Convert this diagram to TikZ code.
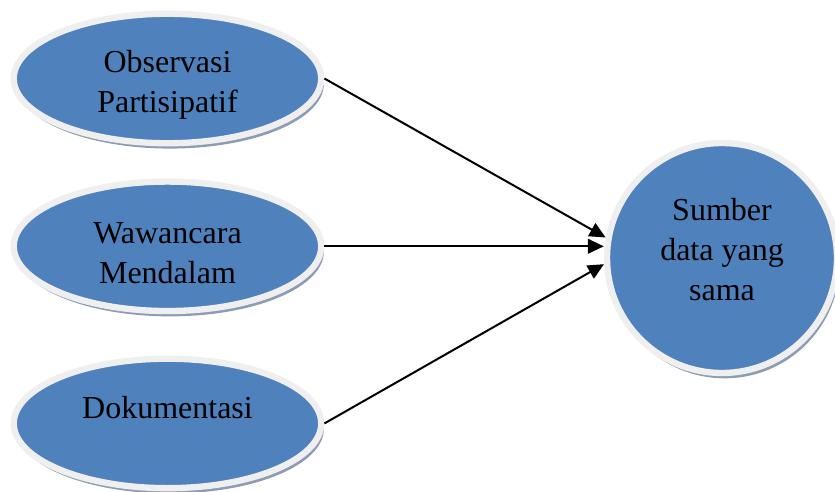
\documentclass[tikz,border=0pt]{standalone}
\usepackage{fontspec}
\setmainfont{Liberation Serif}
\usepackage{tikz}
\usetikzlibrary{positioning,shapes,shadows,arrows,arrows.meta}
\definecolor{officeblue}{HTML}{4F81BD}
\definecolor{rimgrey}{HTML}{EFEFEF}
\definecolor{shadowgrey}{HTML}{8E9CB3}
\tikzset{
	blob/.style={draw=rimgrey, line width=4.75pt, fill=officeblue, inner sep=0pt,
		drop shadow={shadow xshift=2pt, shadow yshift=-4pt, fill=shadowgrey, opacity=1}},
	method/.style={blob, shape=ellipse, minimum width=230.6pt, minimum height=97.1pt},
	blobtext/.style={font=\fontsize{24}{30}\selectfont, align=center, inner sep=0pt}
}

\begin{document}
\begin{tikzpicture}[x=0.75pt, y=-0.75pt, >={Triangle[length=12pt,width=11pt]}]
		\useasboundingbox (0,0) rectangle (835,492);
		\node(obs) [method,label={[blobtext,yshift=-5pt]center:Observasi\\Partisipatif}]
			at (167.5,78.5) {};
		\node(waw) [method,below=24pt of obs,
			label={[blobtext,yshift=-5pt]center:Wawancara\\Mendalam}] {};
		\node(doc) [method,below=31pt of waw,
			label={[blobtext,yshift=12pt]center:Dokumentasi}] {};
		\node(sum) [blob,shape=circle,minimum size=172.5pt,
			label={[blobtext,yshift=6.5pt]center:Sumber\\data yang\\sama}] at (722,258) {};
		\path[->, line width=1.5pt]
			(obs.east) edge (sum.170)
			(waw.east) edge (waw.east -| sum.west)
			(doc.east) edge (sum.183);
	\end{tikzpicture}
\end{document}
